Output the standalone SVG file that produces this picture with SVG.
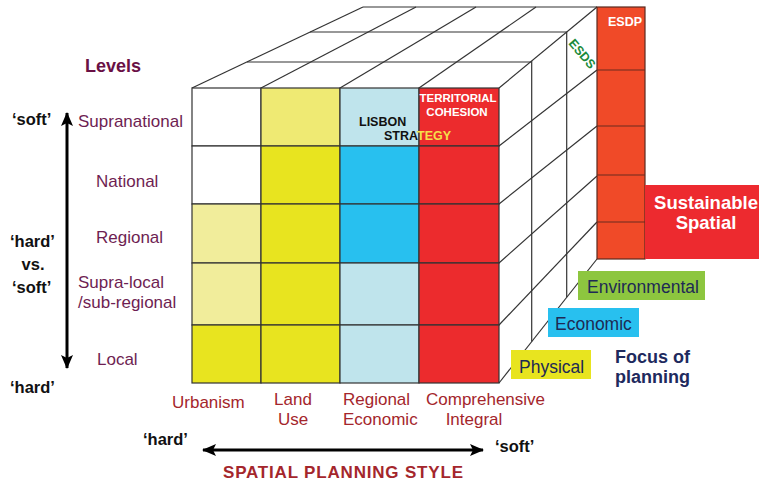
<svg xmlns="http://www.w3.org/2000/svg" width="759" height="486" viewBox="0 0 759 486">
<style>
text{font-family:"Liberation Sans",Arial,sans-serif}
.grid{fill:none;stroke:#333;stroke-width:1.2}
.cell{stroke:#333;stroke-width:1.2}
.w{fill:#fff}.py{fill:#f1ed9b}.py2{fill:#efea73}.y{fill:#e8e41f}.lb{fill:#bfe4ec}.b{fill:#28c0ef}.r{fill:#ec2b2d}
.lvl{font-size:17px;fill:#6e1e52}
.sty{font-size:17px;fill:#a4262c}
.hs{font-size:16.5px;font-weight:bold;fill:#111}
.foc{font-size:17.5px;fill:#1e2a55}
.arr{stroke:#000;stroke-width:3;fill:none}
</style>
<defs>
<marker id="ah" viewBox="0 0 14 12" refX="13" refY="6" markerWidth="14" markerHeight="12" markerUnits="userSpaceOnUse" orient="auto-start-reverse">
<path d="M0,0 L14,6 L0,12 L3,6 Z" fill="#000"/>
</marker>
</defs>
<rect width="759" height="486" fill="#fff"/>

<g id="cube-top-right">
<polygon points="192,88 363,7 597,7 597,259 499,383 499,88" fill="#fff"/>
<g class="grid">
<line x1="247" y1="62" x2="531" y2="62"/>
<line x1="310" y1="32" x2="567" y2="32"/>
<line x1="363" y1="7" x2="597" y2="7"/>
<line x1="192" y1="88" x2="363" y2="7"/>
<line x1="261" y1="88" x2="416" y2="7"/>
<line x1="340" y1="88" x2="476" y2="7"/>
<line x1="419" y1="88" x2="536" y2="7"/>
<line x1="499" y1="88" x2="597" y2="7"/>
<line x1="499" y1="146" x2="597" y2="70"/>
<line x1="499" y1="204" x2="597" y2="126"/>
<line x1="499" y1="263" x2="597" y2="176"/>
<line x1="499" y1="325" x2="597" y2="222"/>
<line x1="499" y1="383" x2="597" y2="259"/>
<line x1="531.7" y1="61" x2="531.7" y2="341.6"/>
<line x1="566.7" y1="32" x2="566.7" y2="297.3"/>
</g>
</g>

<g id="cube-front">
<rect class="cell w" x="192" y="88" width="69" height="58"/>
<rect class="cell py2" x="261" y="88" width="79" height="58"/>
<rect class="cell lb" x="340" y="88" width="79" height="58"/>
<rect class="cell r" x="419" y="88" width="80" height="58"/>
<rect class="cell w" x="192" y="146" width="69" height="58"/>
<rect class="cell y" x="261" y="146" width="79" height="58"/>
<rect class="cell b" x="340" y="146" width="79" height="58"/>
<rect class="cell r" x="419" y="146" width="80" height="58"/>
<rect class="cell py" x="192" y="204" width="69" height="59"/>
<rect class="cell y" x="261" y="204" width="79" height="59"/>
<rect class="cell b" x="340" y="204" width="79" height="59"/>
<rect class="cell r" x="419" y="204" width="80" height="59"/>
<rect class="cell py" x="192" y="263" width="69" height="62"/>
<rect class="cell y" x="261" y="263" width="79" height="62"/>
<rect class="cell lb" x="340" y="263" width="79" height="62"/>
<rect class="cell r" x="419" y="263" width="80" height="62"/>
<rect class="cell y" x="192" y="325" width="69" height="58"/>
<rect class="cell y" x="261" y="325" width="79" height="58"/>
<rect class="cell lb" x="340" y="325" width="79" height="58"/>
<rect class="cell r" x="419" y="325" width="80" height="58"/>
<text x="458" y="102" font-size="11.5" font-weight="bold" fill="#fff" text-anchor="middle">TERRITORIAL</text>
<text x="457" y="116" font-size="11.5" font-weight="bold" fill="#fff" text-anchor="middle">COHESION</text>
<text x="359" y="126" font-size="12.5" font-weight="bold" fill="#111">LISBON</text>
<text x="384" y="140" font-size="12.5" font-weight="bold" fill="#111">STRA<tspan fill="#f5e04a">TEGY</tspan></text>
</g>

<g id="esdp">
<rect x="597" y="7" width="48" height="252" fill="#f04a28" stroke="#5a2a1e" stroke-width="1.2"/>
<g stroke="#6a2a1e" stroke-width="1.2">
<line x1="597" y1="70" x2="645" y2="70"/>
<line x1="597" y1="126" x2="645" y2="126"/>
<line x1="597" y1="175" x2="645" y2="175"/>
<line x1="597" y1="222" x2="645" y2="222"/>
</g>
<text x="625" y="26" font-size="12.5" font-weight="bold" fill="#fff" text-anchor="middle">ESDP</text>
</g>

<g id="esds">
<text transform="translate(582,54) rotate(50)" x="0" y="4" font-size="12.5" font-weight="bold" fill="#1a8a3a" text-anchor="middle">ESDS</text>
</g>

<g id="sustainable">
<rect x="645" y="185" width="114" height="74" fill="#ed2a2f"/>
<text x="706" y="209" font-size="18.5" font-weight="bold" fill="#fff" text-anchor="middle">Sustainable</text>
<text x="706" y="229" font-size="18.5" font-weight="bold" fill="#fff" text-anchor="middle">Spatial</text>
</g>

<g id="focus-boxes">
<rect x="578" y="271" width="127" height="29" fill="#8dc63f"/>
<text class="foc" x="587" y="293">Environmental</text>
<rect x="548" y="308" width="91" height="29" fill="#28c0ef"/>
<text class="foc" x="555" y="330">Economic</text>
<rect x="511" y="350" width="80" height="29" fill="#e8e41f"/>
<text class="foc" x="519" y="373" font-size="17">Physical</text>
<text x="615" y="363" font-size="18" font-weight="bold" fill="#1e2a5e">Focus of</text>
<text x="615" y="383" font-size="18" font-weight="bold" fill="#1e2a5e">planning</text>
</g>

<g id="levels">
<text x="85" y="72" font-size="18" font-weight="bold" fill="#6a1045">Levels</text>
<text class="lvl" x="78" y="127">Supranational</text>
<text class="lvl" x="96" y="187">National</text>
<text class="lvl" x="96" y="243">Regional</text>
<text class="lvl" x="78" y="288">Supra-local</text>
<text class="lvl" x="78" y="308">/sub-regional</text>
<text class="lvl" x="97" y="365">Local</text>
<text class="hs" x="12" y="125">‘soft’</text>
<text class="hs" x="10" y="247">‘hard’</text>
<text class="hs" x="33" y="270" text-anchor="middle">vs.</text>
<text class="hs" x="12" y="293">‘soft’</text>
<text class="hs" x="10" y="393">‘hard’</text>
</g>

<g id="styles">
<text class="sty" x="172" y="408">Urbanism</text>
<text class="sty" x="293" y="405" text-anchor="middle">Land</text>
<text class="sty" x="293" y="425" text-anchor="middle">Use</text>
<text class="sty" x="343" y="405">Regional</text>
<text class="sty" x="343" y="425">Economic</text>
<text class="sty" x="426" y="405">Comprehensive</text>
<text class="sty" x="474" y="425" text-anchor="middle">Integral</text>
<text class="hs" x="143" y="445">‘hard’</text>
<text class="hs" x="495" y="452">‘soft’</text>
<text x="223" y="478" font-size="17" font-weight="bold" fill="#a4262c" textLength="240" lengthAdjust="spacing">SPATIAL  PLANNING  STYLE</text>
</g>

<g id="connectors">
<line class="arr" x1="67" y1="113" x2="67" y2="368" marker-start="url(#ah)" marker-end="url(#ah)"/>
<line class="arr" x1="203" y1="450" x2="483" y2="450" marker-start="url(#ah)" marker-end="url(#ah)"/>
</g>
</svg>
